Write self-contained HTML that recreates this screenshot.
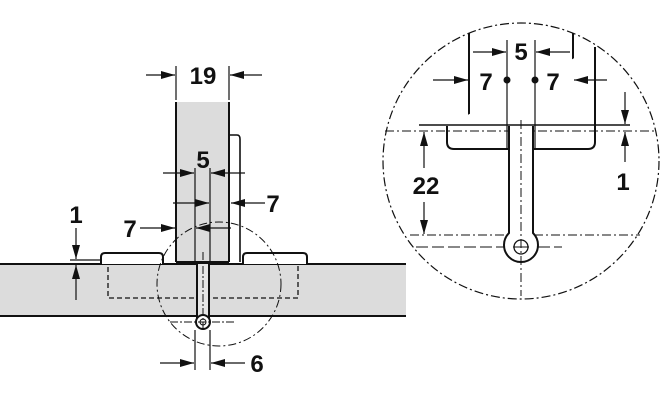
<!DOCTYPE html>
<html><head><meta charset="utf-8"><style>
html,body{margin:0;padding:0;background:#fff}
svg{display:block}
text{font-family:"Liberation Sans",sans-serif;font-weight:bold;fill:#111}
</style></head><body>
<svg width="660" height="400" viewBox="0 0 660 400" xmlns="http://www.w3.org/2000/svg">
<defs>
<marker id="a" viewBox="0 0 14 8" refX="14" refY="4" markerWidth="14" markerHeight="8" markerUnits="userSpaceOnUse" orient="auto"><path d="M0,0 L14,4 L0,8Z" fill="#111"/></marker>
</defs>
<g stroke="#111" fill="none">
<rect x="0" y="264" width="406" height="52" fill="#dcdcdc" stroke="none"/>
<line x1="0" y1="264" x2="406" y2="264" stroke-width="2"/>
<line x1="0" y1="316" x2="406" y2="316" stroke-width="2"/>
<rect x="108" y="264" width="190" height="34" stroke-dasharray="5,3" stroke-width="1.3"/>
<path d="M101,264 V257 Q101,253 105,253 H159 Q163,253 163,257 V264" fill="#fff" stroke-width="2"/>
<path d="M243,264 V257 Q243,253 247,253 H303 Q307,253 307,257 V264" fill="#fff" stroke-width="2"/>
<rect x="176" y="102" width="53" height="160" fill="#dcdcdc" stroke="none"/>
<line x1="176" y1="102" x2="176" y2="262" stroke-width="2"/>
<line x1="229" y1="102" x2="229" y2="262" stroke-width="2"/>
<line x1="176" y1="262" x2="229" y2="262" stroke-width="2"/>
<path d="M229,135 H237 Q240,135 240,139 V262" stroke-width="1.6"/>
<rect x="197" y="264" width="12" height="52" fill="#e6e6e6" stroke="none"/>
<path d="M197,264 V318 M209,264 V318" stroke-width="2"/>
<circle cx="203" cy="322" r="7" fill="#fff" stroke-width="2"/>
<circle cx="203" cy="322" r="3" stroke-width="1"/>
<line x1="203" y1="252" x2="203" y2="330" stroke-width="1" stroke-dasharray="8,2,2,2"/>
<line x1="170" y1="322" x2="236" y2="322" stroke-width="1" stroke-dasharray="8,2,2,2"/>
<circle cx="219" cy="284" r="62" stroke-width="1" stroke-dasharray="8,3,2,3"/>
<g stroke-width="1.2">
<line x1="176" y1="66" x2="176" y2="100"/><line x1="229" y1="66" x2="229" y2="100"/>
<line x1="146" y1="75" x2="175" y2="75" marker-end="url(#a)"/>
<line x1="262" y1="75" x2="230" y2="75" marker-end="url(#a)"/>
<line x1="195" y1="168" x2="195" y2="262"/><line x1="210" y1="168" x2="210" y2="262"/>
<line x1="163" y1="173" x2="194" y2="173" marker-end="url(#a)"/>
<line x1="245" y1="173" x2="211" y2="173" marker-end="url(#a)"/>
<line x1="173" y1="203" x2="209" y2="203" marker-end="url(#a)"/>
<line x1="265" y1="203" x2="231" y2="203" marker-end="url(#a)"/>
<line x1="140" y1="228" x2="175" y2="228" marker-end="url(#a)"/>
<line x1="231" y1="228" x2="196" y2="228" marker-end="url(#a)"/>
<line x1="70" y1="260" x2="100" y2="260"/>
<line x1="76" y1="228" x2="76" y2="259" marker-end="url(#a)"/>
<line x1="76" y1="300" x2="76" y2="265" marker-end="url(#a)"/>
<line x1="195" y1="330" x2="195" y2="370"/><line x1="210" y1="330" x2="210" y2="370"/>
<line x1="160" y1="363" x2="194" y2="363" marker-end="url(#a)"/>
<line x1="245" y1="363" x2="211" y2="363" marker-end="url(#a)"/>
</g>
<circle cx="521" cy="161" r="138" stroke-width="1.2" stroke-dasharray="9,3,2,3"/>
<line x1="469" y1="33" x2="469" y2="126" stroke-width="2"/>
<line x1="573" y1="33" x2="573" y2="126" stroke-width="2"/>
<path d="M595,47 V142 Q595,149 588,149 H454 Q447,149 447,142 V126 Z" fill="#fff" stroke="none"/>
<path d="M595,47 V142 Q595,149 588,149 H454 Q447,149 447,142 V126" stroke-width="2"/>
<line x1="419" y1="125" x2="630" y2="125" stroke-width="1.5"/>
<line x1="507" y1="40" x2="507" y2="150" stroke-width="1.2"/>
<line x1="535" y1="40" x2="535" y2="150" stroke-width="1.2"/>
<line x1="385" y1="131" x2="657" y2="131" stroke-width="1" stroke-dasharray="9,3,2,3"/>
<path d="M509,126 V233 A17,17 0 1,0 533,233 V126" fill="#fff" stroke-width="2"/>
<circle cx="521" cy="247" r="7" stroke-width="1.3"/>
<line x1="410" y1="235" x2="508" y2="235" stroke-width="1" stroke-dasharray="9,3,2,3"/>
<line x1="534" y1="235" x2="640" y2="235" stroke-width="1" stroke-dasharray="9,3,2,3"/>
<line x1="416" y1="247" x2="504" y2="247" stroke-width="1" stroke-dasharray="12,4"/>
<line x1="538" y1="247" x2="562" y2="247" stroke-width="1" stroke-dasharray="12,4"/>
<line x1="521" y1="120" x2="521" y2="296" stroke-width="1" stroke-dasharray="9,3,2,3"/>
<line x1="513" y1="247" x2="529" y2="247" stroke-width="1"/>
<g stroke-width="1.2">
<line x1="473" y1="52" x2="506" y2="52" marker-end="url(#a)"/>
<line x1="570" y1="52" x2="536" y2="52" marker-end="url(#a)"/>
<line x1="433" y1="80" x2="468" y2="80" marker-end="url(#a)"/>
<line x1="607" y1="80" x2="574" y2="80" marker-end="url(#a)"/>
<line x1="424" y1="168" x2="424" y2="132" marker-end="url(#a)"/>
<line x1="424" y1="202" x2="424" y2="234" marker-end="url(#a)"/>
<line x1="625" y1="92" x2="625" y2="124" marker-end="url(#a)"/>
<line x1="625" y1="162" x2="625" y2="132" marker-end="url(#a)"/>
</g>
</g>
<circle cx="507" cy="80" r="3.5" fill="#111"/><circle cx="535" cy="80" r="3.5" fill="#111"/>
<g font-size="24" text-anchor="middle">
<text x="203" y="84">19</text>
<text x="203" y="168">5</text>
<text x="273" y="212">7</text>
<text x="130" y="237">7</text>
<text x="76" y="223">1</text>
<text x="257" y="372">6</text>
<text x="521" y="60">5</text>
<text x="486" y="90">7</text>
<text x="553" y="90">7</text>
<text x="426" y="194">22</text>
<text x="623" y="190">1</text>
</g>
</svg>
</body></html>
